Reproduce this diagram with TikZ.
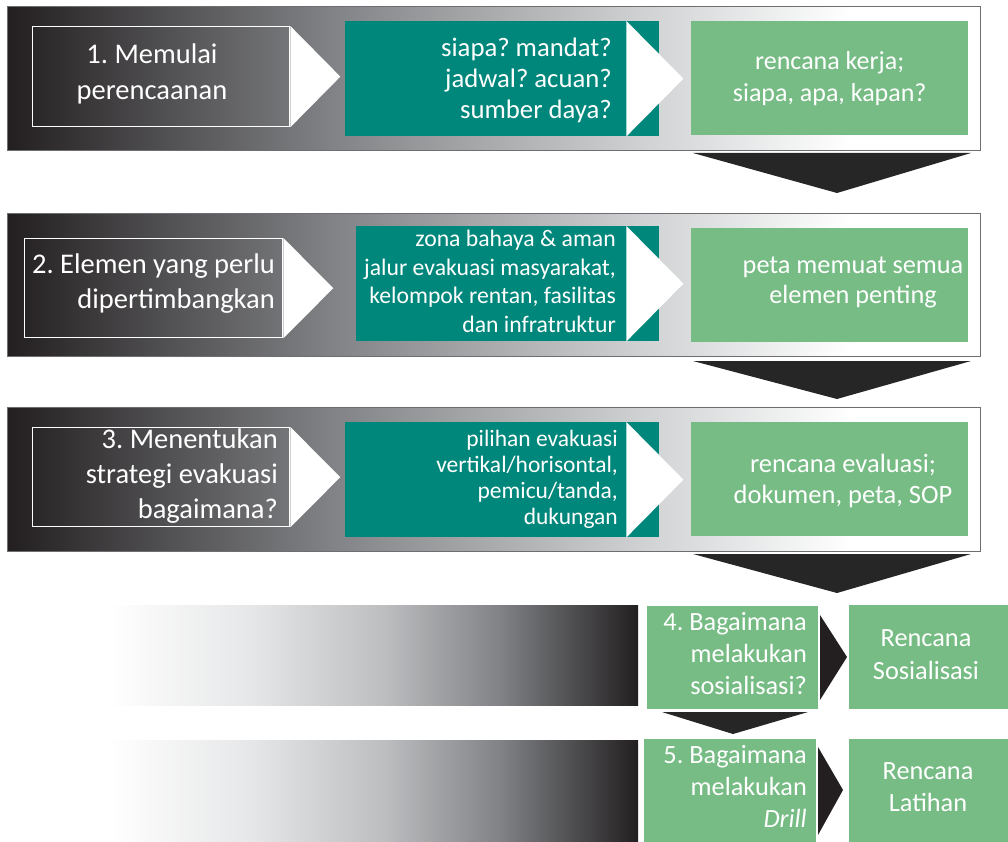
\documentclass[tikz,border=0pt]{standalone}
\usepackage{fontspec}
\setmainfont{Carlito}
\usepackage{tikz}
\usetikzlibrary{calc}
\frenchspacing

\definecolor{bandDark}{HTML}{231F20}
\definecolor{bandMid}{HTML}{4D4D4F}
\definecolor{bandGray}{HTML}{808285}
\definecolor{bandSilver}{HTML}{BCBEC0}
\definecolor{bandLight}{HTML}{D1D3D4}
\definecolor{bandPale}{HTML}{E6E7E8}
\definecolor{bandLine}{HTML}{6D6E71}
\definecolor{tealBox}{HTML}{00877B}
\definecolor{greenBox}{HTML}{76BC84}
\definecolor{arrowDark}{HTML}{262626}

\pgfdeclarehorizontalshading{bandfade}{100bp}{color(0bp)=(bandDark); color(25bp)=(bandDark); color(41.6bp)=(bandGray); color(58bp)=(bandLight); color(68.3bp)=(white); color(100bp)=(white)}
\pgfdeclarehorizontalshading{stubfade}{100bp}{color(0bp)=(white); color(25bp)=(white); color(38.5bp)=(bandPale); color(51bp)=(bandSilver); color(62bp)=(bandGray); color(69bp)=(bandMid); color(75bp)=(bandDark); color(100bp)=(bandDark)}

\tikzset{
  band/.style={draw=bandLine, line width=1pt, shading=bandfade, inner sep=0pt, anchor=north west},
  stub/.style={shading=stubfade, inner sep=0pt, anchor=north west},
  leftbox/.style={draw=white, line width=1.3pt, inner sep=0pt, anchor=north west},
  tealbox/.style={fill=tealBox, inner sep=0pt, anchor=north west},
  greenbox/.style={fill=greenBox, inner sep=0pt, anchor=north west},
  txt/.style={text=white, inner sep=0pt},
  pointer/.style={fill=white},
  droparrow/.style={fill=arrowDark},
}

\begin{document}
\begin{tikzpicture}[x=1pt,y=-1pt]
      \useasboundingbox (0,0) rectangle (1008,842);

      % 1. pita latar bergradasi
      \node[band, minimum width=973, minimum height=144] (b1) at (7,6) {};
      \node[band, minimum width=973, minimum height=143] (b2) at (7,213) {};
      \node[band, minimum width=973, minimum height=144] (b3) at (7,407) {};
      \node[stub, minimum width=531, minimum height=100] (b4) at (107,605) {};
      \node[stub, minimum width=531, minimum height=112] (b5) at (107,740) {};

      % 2. kotak langkah di kiri dan panah putihnya
      \node[leftbox, minimum width=257, minimum height=100] (l1) at (32,26) {};
      \node[leftbox, minimum width=258, minimum height=99] (l2) at (24,238) {};
      \node[leftbox, minimum width=257, minimum height=99] (l3) at (32,427) {};
      \fill[pointer] (l1.north east) -- ([xshift=50]l1.east) -- (l1.south east) -- cycle;
      \fill[pointer] (l2.north east) -- ([xshift=50]l2.east) -- (l2.south east) -- cycle;
      \fill[pointer] (l3.north east) -- ([xshift=50]l3.east) -- (l3.south east) -- cycle;

      % 3. kotak hijau tua (pertanyaan)
      \node[tealbox, minimum width=314, minimum height=115] (t1) at (345,21) {};
      \node[tealbox, minimum width=303, minimum height=115] (t2) at (356,226) {};
      \node[tealbox, minimum width=314, minimum height=115] (t3) at (345,422) {};
      \fill[pointer] ([xshift=-33]t1.north east) -- ([xshift=24]t1.east) -- ([xshift=-33]t1.south east) -- cycle;
      \fill[pointer] ([xshift=-33]t2.north east) -- ([xshift=24]t2.east) -- ([xshift=-33]t2.south east) -- cycle;
      \fill[pointer] ([xshift=-33]t3.north east) -- ([xshift=24]t3.east) -- ([xshift=-33]t3.south east) -- cycle;

      % 4. kotak hijau muda (hasil)
      \node[greenbox, minimum width=277, minimum height=114] (g1) at (691,21) {};
      \node[greenbox, minimum width=277, minimum height=114] (g2) at (691,228) {};
      \node[greenbox, minimum width=277, minimum height=114] (g3) at (691,422) {};
      \node[greenbox, draw=white, minimum width=172, minimum height=104] (g4) at (646,605) {};
      \node[greenbox, minimum width=159, minimum height=104] (r4) at (849,605) {};
      \node[greenbox, minimum width=172, minimum height=112] (g5) at (644,739) {};
      \node[greenbox, minimum width=159, minimum height=112] (r5) at (849,739) {};

      % 5. panah gelap ke bawah dan ke kanan
      \fill[droparrow] (693,153) -- (971,153) -- (837,193) -- cycle;
      \fill[droparrow] (693,361) -- (971,361) -- (837,399) -- cycle;
      \fill[droparrow] (693,554) -- (971,554) -- (837,593) -- cycle;
      \fill[droparrow] (662,712) -- (808,712) -- (733,734) -- cycle;
      \fill[droparrow, fill=bandDark] (820,615) -- (847,657) -- (820,700) -- cycle;
      \fill[droparrow, fill=bandDark] (818,747) -- (843,790) -- (818,835) -- cycle;

      % 6. teks
      \node[txt, align=center, font=\fontsize{28.5}{36}\selectfont] (l1txt) at (152,73.5) {1. Memulai\\perencaanan};
      \node[txt, align=right, anchor=east, font=\fontsize{28.5}{35}\selectfont] (l2txt) at (275,283.5) {2. Elemen yang perlu\\dipertimbangkan};
      \node[txt, align=right, anchor=east, font=\fontsize{28.5}{35}\selectfont] (l3txt) at (278,476.5) {3. Menentukan\\strategi evakuasi\\bagaimana?};

      \node[txt, align=right, anchor=east, font=\fontsize{26.7}{31}\selectfont] (t1txt) at (612,80) {siapa? mandat?\\jadwal? acuan?\\sumber daya?};
      \node[txt, align=right, anchor=east, font=\fontsize{23.7}{28.5}\selectfont] (t2txt) at (616,281.5) {zona bahaya \& aman\\jalur evakuasi masyarakat,\\kelompok rentan, fasilitas\\dan infratruktur};
      \node[txt, align=right, anchor=east, font=\fontsize{23.5}{26}\selectfont] (t3txt) at (618,479) {pilihan evakuasi\\vertikal/horisontal,\\pemicu/tanda,\\dukungan};

      \node[txt, align=center, font=\fontsize{26}{32}\selectfont] (g1txt) at (g1.center) {rencana kerja;\\siapa, apa, kapan?};
      \node[txt, align=center, font=\fontsize{26.3}{30}\selectfont] (g2txt) at (853,282) {peta memuat semua\\elemen penting};
      \node[txt, align=center, font=\fontsize{26.5}{31}\selectfont] (g3txt) at (843,481) {rencana evaluasi;\\dokumen, peta, SOP};

      \node[txt, align=right, anchor=east, font=\fontsize{26.3}{32}\selectfont] (g4txt) at (807,654) {4. Bagaimana\\melakukan\\sosialisasi?};
      \node[txt, align=center, font=\fontsize{26.3}{33}\selectfont] (r4txt) at (926,655) {Rencana\\Sosialisasi};
      \node[txt, align=right, anchor=east, font=\fontsize{26.3}{32}\selectfont] (g5txt) at (807,786.5) {5. Bagaimana\\melakukan\\\textit{Drill}};
      \node[txt, align=center, font=\fontsize{26.3}{32}\selectfont] (r5txt) at (928,787.5) {Rencana\\Latihan};
\end{tikzpicture}
\end{document}
